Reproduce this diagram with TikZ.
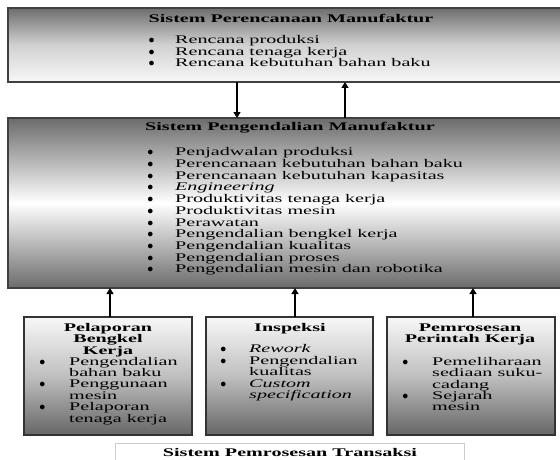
\documentclass[tikz,border=0pt]{standalone}
\usepackage{fontspec}
\setmainfont{Liberation Serif}[FakeStretch=1.72]
\usetikzlibrary{arrows.meta}
% bullet followed by the item text, starting at a fixed indent
\newcommand\bul[1]{\makebox[#1][l]{$\bullet$}}
\begin{document}
\begin{tikzpicture}[x=1pt,y=-1pt,
  box/.style={draw=black!75, line width=1.2pt, inner sep=0pt, outer sep=0pt,
    anchor=north west, rectangle},
  fadedown/.style={box, top color=black!57, bottom color=white!97!black, middle color=black!18},
  fademid/.style={box, top color=black!58, bottom color=black!58, middle color=white},
  fadeup/.style={box, draw=black!80, line width=1.3pt, top color=white!97!black,
    bottom color=black!60, middle color=black!25},
  heading/.style={font=\bfseries\fontsize{11.7}{11.6}\selectfont, anchor=base, inner sep=0pt},
  items/.style={anchor=base west, inner sep=0pt},
  arr/.style={-{Triangle[width=7pt,length=6pt]}, line width=1.3pt}
]
\useasboundingbox (0,0) rectangle (560,460);
\clip (0,0) rectangle (560,460);

% ---- planning system
\node[fadedown, minimum width=556pt, minimum height=74pt] (plan) at (8,8) {};
\node[heading] (planT) at (291,23) {Sistem Perencanaan Manufaktur};
\node[items, font=\fontsize{11.7}{11.2}\selectfont] (planL) at (148.5,44) {%
  \begin{tabular}[t]{@{}l@{}}
  \bul{26.5pt}Rencana produksi\\
  \bul{26.5pt}Rencana tenaga kerja\\
  \bul{26.5pt}Rencana kebutuhan bahan baku
  \end{tabular}};

% ---- control system
\node[fademid, minimum width=556pt, minimum height=170pt] (ctrl) at (8,118) {};
\node[heading] (ctrlT) at (290,131) {Sistem Pengendalian Manufaktur};
\node[items, font=\fontsize{11.7}{11.75}\selectfont] (ctrlL) at (147.2,155.5) {%
  \begin{tabular}[t]{@{}l@{}}
  \bul{27.8pt}Penjadwalan produksi\\
  \bul{27.8pt}Perencanaan kebutuhan bahan baku\\
  \bul{27.8pt}Perencanaan kebutuhan kapasitas\\
  \bul{27.8pt}\textit{Engineering}\\
  \bul{27.8pt}Produktivitas tenaga kerja\\
  \bul{27.8pt}Produktivitas mesin\\
  \bul{27.8pt}Perawatan\\
  \bul{27.8pt}Pengendalian bengkel kerja\\
  \bul{27.8pt}Pengendalian kualitas\\
  \bul{27.8pt}Pengendalian proses\\
  \bul{27.8pt}Pengendalian mesin dan robotika
  \end{tabular}};

% ---- transaction subsystems
\node[fadeup, minimum width=168pt, minimum height=118pt] (shop) at (24,317) {};
\node[heading] (shopT) at (108,331) {%
  \begin{tabular}[t]{@{}c@{}}Pelaporan\\ Bengkel\\ Kerja\end{tabular}};
\node[items, font=\fontsize{11.7}{11.3}\selectfont] (shopL) at (39.2,365) {%
  \begin{tabular}[t]{@{}l@{}}
  \bul{29.8pt}Pengendalian\\
  \hspace*{29.8pt}bahan baku\\
  \bul{29.8pt}Penggunaan\\
  \hspace*{29.8pt}mesin\\
  \bul{29.8pt}Pelaporan\\
  \hspace*{29.8pt}tenaga kerja
  \end{tabular}};

\node[fadeup, minimum width=167pt, minimum height=118pt] (insp) at (206,317) {};
\node[heading] (inspT) at (290,331) {Inspeksi};
\node[items, font=\fontsize{11.7}{11.5}\selectfont] (inspL) at (220.2,352.5) {%
  \begin{tabular}[t]{@{}l@{}}
  \bul{28.8pt}\textit{Rework}\\
  \bul{28.8pt}Pengendalian\\
  \hspace*{28.8pt}kualitas\\
  \bul{28.8pt}\textit{Custom}\\
  \hspace*{28.8pt}\textit{specification}
  \end{tabular}};

\node[fadeup, minimum width=168pt, minimum height=118pt] (order) at (387,317) {};
\node[heading] (orderT) at (470,331) {%
  \begin{tabular}[t]{@{}c@{}}Pemrosesan\\ Perintah Kerja\end{tabular}};
\node[items, font=\fontsize{11.7}{11.3}\selectfont] (orderL) at (402.2,365) {%
  \begin{tabular}[t]{@{}l@{}}
  \bul{29.8pt}Pemeliharaan\\
  \hspace*{29.8pt}sediaan suku-\\
  \hspace*{29.8pt}cadang\\
  \bul{29.8pt}Sejarah\\
  \hspace*{29.8pt}mesin
  \end{tabular}};

% ---- transaction processing frame
\node[box, draw=black!20, line width=1pt, fill=white, minimum width=349pt,
  minimum height=30pt] (tps) at (115,443) {};
\node[heading] (tpsT) at (290,456) {Sistem Pemrosesan Transaksi};

% ---- arrows
\coordinate (xa) at (237,0);
\coordinate (xb) at (345,0);
\draw[arr] (plan.south -| xa) -- (ctrl.north -| xa);
\draw[arr] (ctrl.north -| xb) -- (plan.south -| xb);
\coordinate (xc) at (110,0);
\coordinate (xd) at (295,0);
\coordinate (xe) at (473,0);
\draw[arr] (shop.north -| xc) -- (ctrl.south -| xc);
\draw[arr] (insp.north -| xd) -- (ctrl.south -| xd);
\draw[arr] (order.north -| xe) -- (ctrl.south -| xe);
\end{tikzpicture}
\end{document}
